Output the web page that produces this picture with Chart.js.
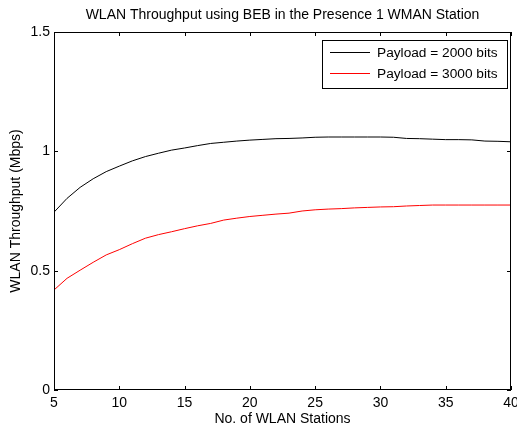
<!DOCTYPE html>
<html>
<head>
<meta charset="utf-8">
<script src="https://cdn.jsdelivr.net/npm/chart.js@4/dist/chart.umd.min.js"></script>
<style>
  html, body { margin: 0; padding: 0; background: #fff; }
  #wrap { width: 517px; height: 428px; }
</style>
</head>
<body>
<div id="wrap"><canvas id="chart" width="517" height="428"></canvas></div>
<script>
// number of WLAN stations
const stations = [5, 6, 7, 8, 9, 10, 11, 12, 13, 14, 15, 16, 17, 18, 19, 20, 21, 22,
  23, 24, 25, 26, 27, 28, 29, 30, 31, 32, 33, 34, 35, 36, 37, 38, 39, 40];

// throughput (Mbps)
const payload2000 = [0.745, 0.803, 0.849, 0.885, 0.915, 0.938, 0.960, 0.978, 0.992, 1.005,
  1.014, 1.024, 1.033, 1.038, 1.043, 1.047, 1.050, 1.053, 1.054, 1.056, 1.059, 1.060,
  1.060, 1.060, 1.060, 1.060, 1.059, 1.054, 1.053, 1.051, 1.049, 1.049, 1.048, 1.043,
  1.042, 1.040];
const payload3000 = [0.419, 0.468, 0.502, 0.535, 0.566, 0.588, 0.613, 0.636, 0.651, 0.663,
  0.676, 0.688, 0.698, 0.712, 0.720, 0.727, 0.732, 0.737, 0.741, 0.750, 0.755, 0.758,
  0.760, 0.763, 0.765, 0.767, 0.768, 0.771, 0.773, 0.775, 0.775, 0.775, 0.775, 0.775,
  0.775, 0.775];

const seriesLabels = ['Payload = 2000 bits', 'Payload = 3000 bits'];
const xTicks = [5, 10, 15, 20, 25, 30, 35, 40];
const yTicks = [0, 0.5, 1, 1.5];

const FONT = 'Liberation Sans, Arial, sans-serif';

// MATLAB style box with inward tick marks, plus the legend box
const matlabAxes = {
  id: 'matlabAxes',
  afterDatasetsDraw(chart) {
    const { ctx, chartArea: a, scales } = chart;
    ctx.save();
    ctx.strokeStyle = '#000';
    ctx.lineWidth = 1;
    ctx.strokeRect(Math.round(a.left) + 0.5, Math.round(a.top) + 0.5,
      Math.round(a.right - a.left) - 1, Math.round(a.bottom - a.top) - 1);
    const len = 4;
    ctx.beginPath();
    xTicks.forEach(v => {
      const x = Math.round(scales.x.getPixelForValue(v)) + 0.5;
      ctx.moveTo(x, a.bottom); ctx.lineTo(x, a.bottom - len);
      ctx.moveTo(x, a.top); ctx.lineTo(x, a.top + len);
    });
    yTicks.forEach(v => {
      const y = Math.round(scales.y.getPixelForValue(v)) + 0.5;
      ctx.moveTo(a.left, y); ctx.lineTo(a.left + len, y);
      ctx.moveTo(a.right, y); ctx.lineTo(a.right - len, y);
    });
    ctx.stroke();

    // legend
    const bx = a.right - 189, by = a.top + 8, bw = 185, bh = 48;
    ctx.fillStyle = '#fff';
    ctx.fillRect(bx, by, bw, bh);
    ctx.strokeRect(Math.round(bx) + 0.5, Math.round(by) + 0.5, bw, bh);
    ctx.font = '13.7px ' + FONT;
    ctx.textBaseline = 'middle';
    chart.data.datasets.forEach((ds, i) => {
      const y = by + 12 + i * 21;
      ctx.strokeStyle = ds.borderColor;
      ctx.beginPath();
      ctx.moveTo(bx + 8, Math.round(y) + 0.5);
      ctx.lineTo(bx + 48, Math.round(y) + 0.5);
      ctx.stroke();
      ctx.fillStyle = '#000';
      ctx.fillText(ds.label, bx + 55, y + 1);
    });
    ctx.restore();
  }
};

new Chart(document.getElementById('chart'), {
  type: 'line',
  data: {
    datasets: [
      {
        label: seriesLabels[0],
        data: stations.map((s, i) => ({ x: s, y: payload2000[i] })),
        borderColor: '#000',
        borderWidth: 1,
        pointRadius: 0,
        tension: 0
      },
      {
        label: seriesLabels[1],
        data: stations.map((s, i) => ({ x: s, y: payload3000[i] })),
        borderColor: '#ff0000',
        borderWidth: 1,
        pointRadius: 0,
        tension: 0
      }
    ]
  },
  options: {
    responsive: false,
    animation: false,
    layout: { padding: { top: 0, right: 6, bottom: 0, left: 0 } },
    plugins: {
      legend: { display: false },
      tooltip: { enabled: false },
      title: {
        display: true,
        fullSize: false,
        text: 'WLAN Throughput using BEB in the Presence 1 WMAN Station',
        color: '#000',
        font: { family: FONT, size: 14, weight: 'normal', lineHeight: 1.2 },
        padding: { top: 6.6, bottom: 8.6 }
      }
    },
    scales: {
      x: {
        type: 'linear',
        min: 5,
        max: 40,
        grid: { display: false, drawTicks: false },
        border: { display: false },
        afterBuildTicks: s => { s.ticks = xTicks.map(v => ({ value: v })); },
        afterFit: s => { s.height = 38; s.paddingLeft = 0; s.paddingRight = 0; },
        ticks: {
          color: '#000',
          padding: 5,
          maxRotation: 0,
          autoSkip: false,
          font: { family: FONT, size: 14 },
          callback: v => String(v)
        },
        title: {
          display: true,
          text: 'No. of WLAN Stations',
          color: '#000',
          font: { family: FONT, size: 14, lineHeight: 1.2 },
          padding: { top: 0, bottom: 0 }
        }
      },
      y: {
        min: 0,
        max: 1.5,
        grid: { display: false, drawTicks: false },
        border: { display: false },
        afterBuildTicks: s => { s.ticks = yTicks.map(v => ({ value: v })); },
        afterFit: s => { s.width = 54; s.paddingTop = 0; s.paddingBottom = 0; },
        ticks: {
          color: '#000',
          padding: 4,
          font: { family: FONT, size: 14 },
          callback: v => String(v)
        },
        title: {
          display: true,
          text: 'WLAN Throughput (Mbps)',
          color: '#000',
          font: { family: FONT, size: 14, lineHeight: 1.2 },
          padding: { top: 7.6, bottom: 0 }
        }
      }
    }
  },
  plugins: [matlabAxes]
});
</script>
</body>
</html>
